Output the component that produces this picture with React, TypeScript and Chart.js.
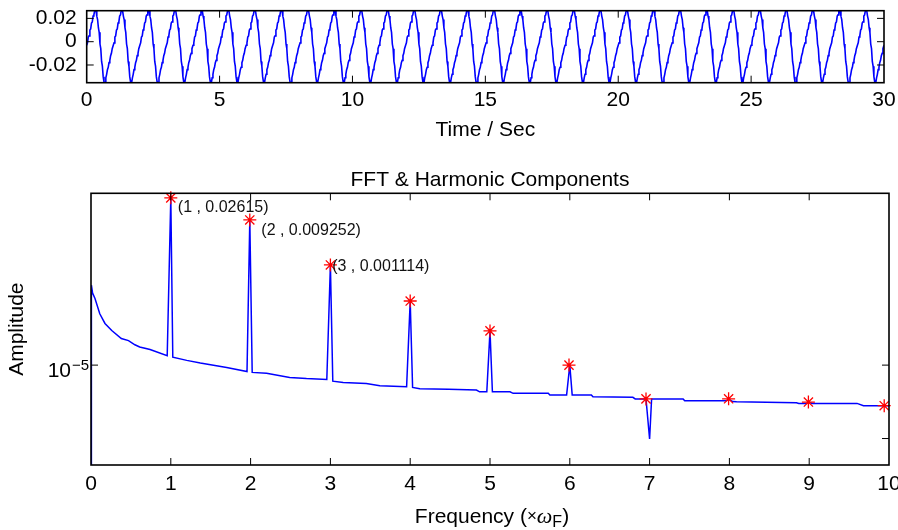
import { useEffect, useRef } from 'react';
import { Chart, registerables } from 'chart.js';

Chart.register(...registerables);

const FONT = '"Liberation Sans", Arial, Helvetica, sans-serif';

// ---------- Top panel: time signal ----------
// one measured period (1 s) of the waveform, read from the picture
const PERIOD_PHASE = [0, 0.03, 0.06, 0.09, 0.12, 0.15, 0.18, 0.21, 0.24, 0.27, 0.3, 0.35, 0.38, 0.41, 0.44, 0.47, 0.5, 0.53, 0.56, 0.59, 0.62, 0.65, 0.69, 0.72, 0.75, 0.78, 0.81, 0.84, 0.87, 0.9, 0.93, 0.96];
const PERIOD_VALUE = [-0.003, -0.001, 0.004, 0.005, 0.01, 0.011, 0.016, 0.017, 0.022, 0.023, 0.0266, 0.0266, 0.022, 0.019, 0.012, 0.008, -0.002, -0.006, -0.017, -0.021, -0.03, -0.0345, -0.0352, -0.031, -0.028, -0.024, -0.022, -0.018, -0.016, -0.012, -0.01, -0.006];
const N_PERIODS = 30;
const TIME_TICKS = [0, 5, 10, 15, 20, 25, 30];
const SIGNAL_TICKS = [-0.02, 0, 0.02];
const SIGNAL_TICK_LABELS = ['-0.02', '0', '0.02'];

// ---------- Bottom panel: FFT ----------
const FFT_FREQ = [
  0, 0.005, 0.02, 0.05, 0.11, 0.175, 0.26, 0.38, 0.47, 0.55, 0.61, 0.74, 0.955,
  1.0, 1.025, 1.2, 1.37, 1.7, 1.955,
  1.99, 2.02, 2.2, 2.49, 2.7, 2.955,
  3.0, 3.03, 3.16, 3.45, 3.62, 3.955,
  4.0, 4.03, 4.12, 4.48, 4.83, 4.87, 4.96,
  5.0, 5.03, 5.25, 5.29, 5.73, 5.75, 5.96,
  6.0, 6.03, 6.27, 6.29, 6.79, 6.82, 6.955,
  7.0, 7.025, 7.42, 7.44, 7.92, 7.96,
  8.0, 8.04, 8.09, 8.84, 8.87, 8.96,
  9.0, 9.04, 9.6, 9.68, 10.0,
];
const FFT_AMP = [
  9.1e-8, 4.3e-4, 2.95e-4, 2.29e-4, 1.12e-4, 7.1e-5, 5.1e-5, 3.5e-5, 3.16e-5, 2.6e-5, 2.34e-5, 2.09e-5, 1.55e-5,
  0.02615, 1.45e-5, 1.25e-5, 1.1e-5, 8.9e-6, 7.4e-6,
  0.009252, 7.1e-6, 6.8e-6, 5.6e-6, 5.3e-6, 5.1e-6,
  0.001114, 4.7e-6, 4.4e-6, 4.2e-6, 3.8e-6, 3.6e-6,
  2.04e-4, 3.5e-6, 3.3e-6, 3.2e-6, 3.1e-6, 2.85e-6, 2.85e-6,
  5.0e-5, 2.85e-6, 2.85e-6, 2.65e-6, 2.65e-6, 2.45e-6, 2.45e-6,
  1.0e-5, 2.45e-6, 2.45e-6, 2.25e-6, 2.2e-6, 2.04e-6, 2.04e-6,
  3.1e-7, 2.04e-6, 2.04e-6, 1.87e-6, 1.87e-6, 1.87e-6,
  1.98e-6, 1.8e-6, 1.78e-6, 1.7e-6, 1.65e-6, 1.65e-6,
  1.72e-6, 1.65e-6, 1.65e-6, 1.48e-6, 1.48e-6,
];
const HARM_FREQ = [1, 1.99, 3, 4, 5, 5.99, 6.955, 7.99, 8.99, 9.94];
const HARM_AMP = [0.02615, 0.009252, 0.001114, 2.04e-4, 5.0e-5, 1.0e-5, 2.04e-6, 2.05e-6, 1.76e-6, 1.48e-6];
const HARM_LABELS = ['(1 , 0.02615)', '(2 , 0.009252)', '(3 , 0.001114)'];
const FREQ_TICKS = [0, 1, 2, 3, 4, 5, 6, 7, 8, 9, 10];
const AMP_TICKS = [1e-5];
const AMP_RIGHT_TICKS = [1e-5, 3.16e-7];
const AMP_MIN = 9.1e-8;
const AMP_MAX = 0.0324;

// label offsets from their marker (pixels)
const LABEL_OFFSETS = [[7, 10], [11.5, 11], [1.8, 2]];

const framePlugin = {
  id: 'frame',
  afterDraw(chart: any, _args: any, opts: any) {
    const { ctx, chartArea, scales } = chart;
    const { left, right, top, bottom } = chartArea;
    const tl = 7;
    ctx.save();
    ctx.strokeStyle = '#000';
    ctx.lineWidth = 1;
    const xs = scales.x;
    for (const t of xs.ticks) {
      const px = xs.getPixelForValue(t.value);
      if (px <= left + 1 || px >= right - 1) continue;
      ctx.beginPath();
      ctx.moveTo(px, bottom); ctx.lineTo(px, bottom - tl);
      ctx.moveTo(px, top); ctx.lineTo(px, top + tl);
      ctx.stroke();
    }
    const ys = scales.y;
    const leftTicks: number[] = opts.leftTicks || ys.ticks.map((t: any) => t.value);
    const rightTicks: number[] = opts.rightTicks || leftTicks;
    for (const v of leftTicks) {
      const py = ys.getPixelForValue(v);
      ctx.beginPath(); ctx.moveTo(left, py); ctx.lineTo(left + tl, py); ctx.stroke();
    }
    for (const v of rightTicks) {
      const py = ys.getPixelForValue(v);
      ctx.beginPath(); ctx.moveTo(right, py); ctx.lineTo(right - tl, py); ctx.stroke();
    }
    ctx.lineWidth = 1.6;
    ctx.strokeRect(left, top, right - left, bottom - top);

    if (opts.fft) {
      // harmonic labels
      ctx.fillStyle = '#111';
      ctx.font = `16px ${FONT}`;
      ctx.textBaseline = 'middle';
      ctx.textAlign = 'left';
      HARM_LABELS.forEach((txt, i) => {
        const px = xs.getPixelForValue(HARM_FREQ[i]);
        const py = ys.getPixelForValue(HARM_AMP[i]);
        ctx.fillText(txt, px + LABEL_OFFSETS[i][0], py + LABEL_OFFSETS[i][1]);
      });
      // exponent of the 10^-5 tick label
      ctx.fillStyle = '#000';
      ctx.font = `15px ${FONT}`;
      ctx.textBaseline = 'alphabetic';
      for (const v of AMP_TICKS) {
        const py = ys.getPixelForValue(v);
        ctx.fillText('\u22125', left - 19, py + 4.5);
      }
      // x axis title with omega and subscript
      const parts = [
        { t: 'Frequency (', f: `21px ${FONT}`, dy: 0 },
        { t: '\u00d7', f: `17px ${FONT}`, dy: -2 },
        { t: '\u03c9', f: `italic 22px "Liberation Serif", serif`, dy: 0 },
        { t: 'F', f: `16px ${FONT}`, dy: 4 },
        { t: ')', f: `21px ${FONT}`, dy: 0 },
      ];
      let total = 0;
      const widths = parts.map(p => { ctx.font = p.f; const w = ctx.measureText(p.t).width; total += w; return w; });
      let x = (left + right) / 2 - total / 2 + 2;
      const base = bottom + 58;
      parts.forEach((p, i) => {
        ctx.font = p.f;
        ctx.fillText(p.t, x, base + p.dy);
        x += widths[i];
      });
    }
    ctx.restore();
  },
};

function TopChart() {
  const ref = useRef<HTMLCanvasElement | null>(null);
  useEffect(() => {
    const pts: { x: number; y: number }[] = [];
    for (let k = 0; k < N_PERIODS; k++) {
      PERIOD_PHASE.forEach((p, i) => pts.push({ x: k + p, y: PERIOD_VALUE[i] }));
    }
    pts.push({ x: N_PERIODS, y: PERIOD_VALUE[0] });
    const font = { family: FONT, size: 21 };
    const chart = new Chart(ref.current!, {
      type: 'scatter',
      data: {
        datasets: [{
          data: pts, showLine: true, borderColor: '#0000ff', borderWidth: 1.6,
          pointRadius: 0, tension: 0,
        }],
      },
      options: {
        animation: false, responsive: false, devicePixelRatio: 1,
        layout: { padding: { left: 0, right: 14, top: 10.7, bottom: 0 } },
        plugins: { legend: { display: false }, tooltip: { enabled: false }, frame: {} } as any,
        scales: {
          x: {
            type: 'linear', min: 0, max: 30,
            afterBuildTicks: (s: any) => { s.ticks = TIME_TICKS.map(v => ({ value: v })); },
            afterFit: (s: any) => { s.height = 67.3; s.paddingLeft = 0; s.paddingRight = 0; },
            ticks: { font, color: '#000', padding: 5, maxRotation: 0, autoSkip: false, callback: (v: any) => String(v) },
            grid: { display: false, drawTicks: false },
            border: { display: false },
            title: { display: true, text: 'Time / Sec', font, color: '#000', padding: { top: 0, bottom: 6.9 } },
          },
          y: {
            type: 'linear', min: -0.0352, max: 0.0266,
            afterBuildTicks: (s: any) => { s.ticks = SIGNAL_TICKS.map(v => ({ value: v })); },
            afterFit: (s: any) => { s.width = 86.7; s.paddingTop = 0; s.paddingBottom = 0; },
            ticks: {
              font, color: '#000', padding: 10, autoSkip: false,
              callback: (v: any) => SIGNAL_TICK_LABELS[SIGNAL_TICKS.indexOf(Number(v))] ?? '',
            },
            grid: { display: false, drawTicks: false },
            border: { display: false },
          },
        },
      } as any,
      plugins: [framePlugin],
    });
    return () => chart.destroy();
  }, []);
  return <canvas ref={ref} width={898} height={150} style={{ position: 'absolute', left: 0, top: 0 }} />;
}

function BottomChart() {
  const ref = useRef<HTMLCanvasElement | null>(null);
  useEffect(() => {
    const line = FFT_FREQ.map((f, i) => ({ x: f, y: FFT_AMP[i] }));
    const marks = HARM_FREQ.map((f, i) => ({ x: f, y: HARM_AMP[i] }));
    const font = { family: FONT, size: 21 };
    const chart = new Chart(ref.current!, {
      type: 'scatter',
      data: {
        datasets: [
          {
            data: marks, showLine: false, pointStyle: 'star', pointRadius: 6.5,
            pointBorderColor: '#ff0000', pointBackgroundColor: '#ff0000', pointBorderWidth: 1.3,
            order: 0, clip: false,
          },
          {
            data: line, showLine: true, borderColor: '#0000ff', borderWidth: 1.5,
            pointRadius: 0, tension: 0, order: 1,
          },
        ],
      },
      options: {
        animation: false, responsive: false, devicePixelRatio: 1,
        layout: { padding: { left: 0, right: 9, top: 0, bottom: 0 } },
        plugins: {
          legend: { display: false }, tooltip: { enabled: false },
          title: {
            display: true, text: 'FFT & Harmonic Components', color: '#000', fullSize: false,
            font: { family: FONT, size: 21, weight: 'normal' }, padding: { top: 17.4, bottom: 0.7 },
          },
          frame: { fft: true, leftTicks: AMP_TICKS, rightTicks: AMP_RIGHT_TICKS },
        } as any,
        scales: {
          x: {
            type: 'linear', min: 0, max: 10,
            afterBuildTicks: (s: any) => { s.ticks = FREQ_TICKS.map(v => ({ value: v })); },
            afterFit: (s: any) => { s.height = 65; s.paddingLeft = 0; s.paddingRight = 0; },
            ticks: { font, color: '#000', padding: 7, maxRotation: 0, autoSkip: false, callback: (v: any) => String(v) },
            grid: { display: false, drawTicks: false },
            border: { display: false },
          },
          y: {
            type: 'logarithmic', min: AMP_MIN, max: AMP_MAX,
            afterBuildTicks: (s: any) => { s.ticks = AMP_TICKS.map(v => ({ value: v })); },
            afterFit: (s: any) => { s.width = 91; s.paddingTop = 0; s.paddingBottom = 0; },
            ticks: { font, color: '#000', padding: 20, labelOffset: 6.5, autoSkip: false, callback: () => '10' },
            grid: { display: false, drawTicks: false },
            border: { display: false },
            title: { display: true, text: 'Amplitude', font, color: '#000', padding: { top: 4.9, bottom: 0 } },
          },
        },
      } as any,
      plugins: [framePlugin],
    });
    return () => chart.destroy();
  }, []);
  return <canvas ref={ref} width={898} height={380} style={{ position: 'absolute', left: 0, top: 150 }} />;
}

export default function App() {
  return (
    <div style={{ position: 'fixed', left: 0, top: 0, width: 898, height: 530, background: '#fff', overflow: 'hidden' }}>
      <TopChart />
      <BottomChart />
    </div>
  );
}
